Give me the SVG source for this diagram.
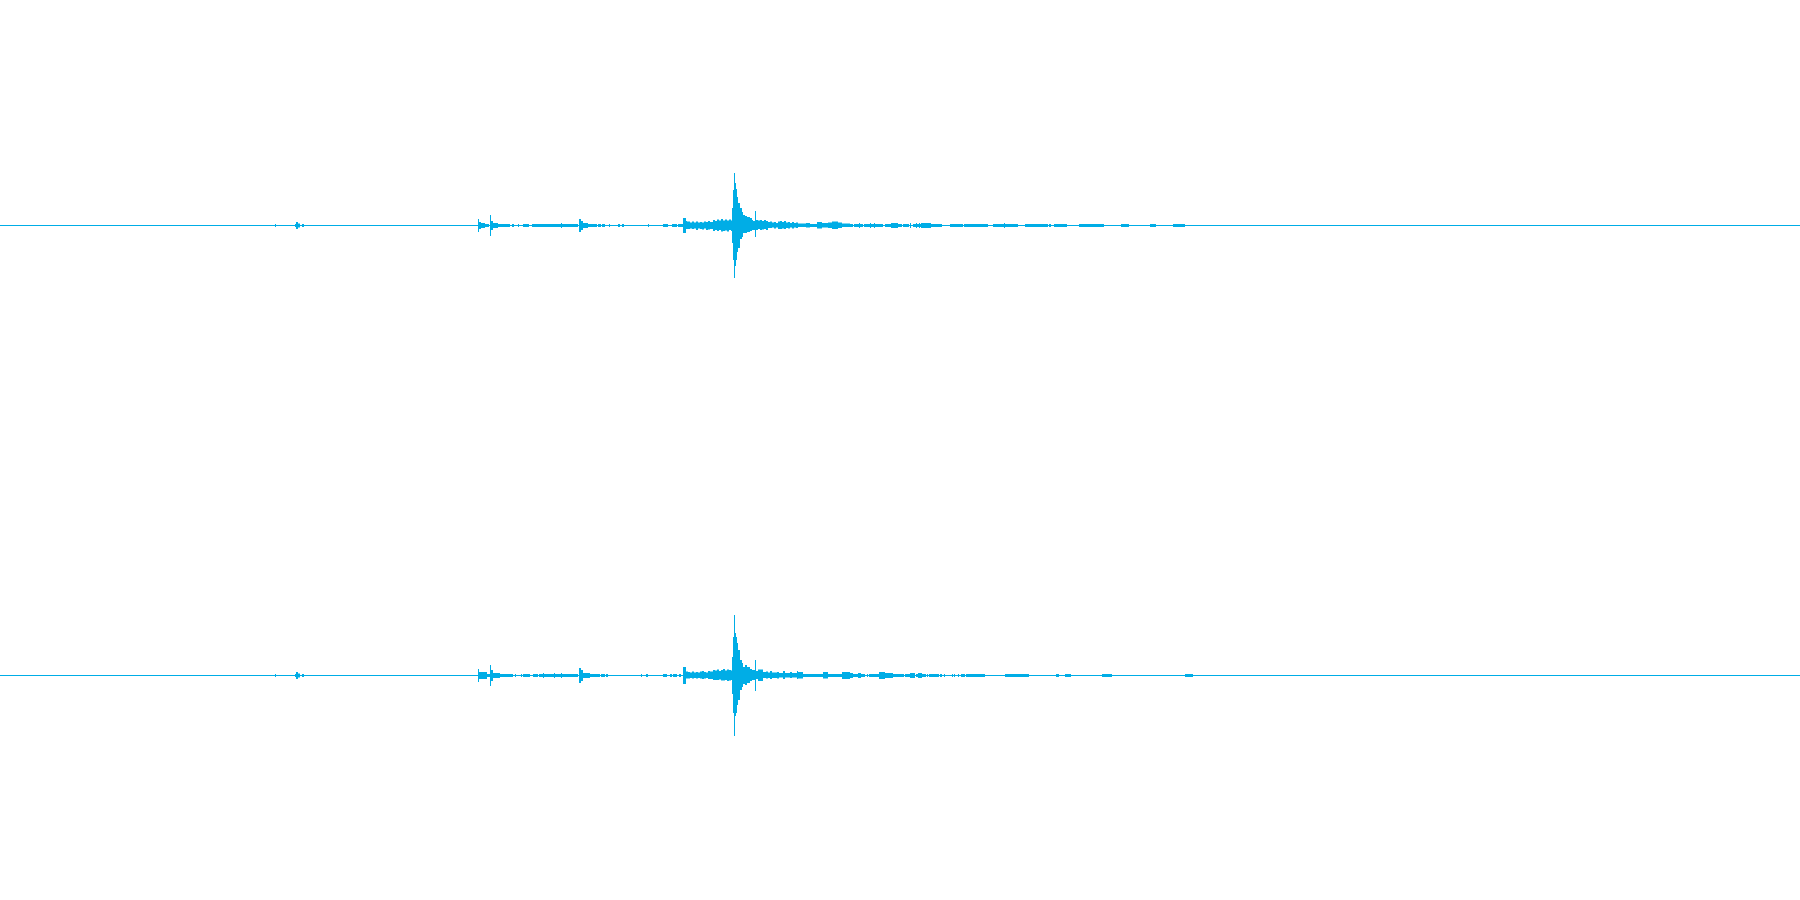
<svg xmlns="http://www.w3.org/2000/svg" width="1800" height="900" viewBox="0 0 1800 900">
<style>
.base{stroke:#00ADE6;stroke-width:1;fill:none}
.wave{fill:#00ADE6;stroke:none}
</style>
<rect x="0" y="0" width="1800" height="900" fill="#FFFFFF"/>
<g id="channel-1" transform="translate(0,225)">
<line class="base" x1="0" y1="0.5" x2="1800" y2="0.5"/>
<path class="wave" d="M275-1H276V2H275Z M295-1H296V2H295Z M296-3H298V4H296Z M298-1.5H300V2.5H298Z M302-1H304V2H302Z
M478-6H479V7H478Z M479-3H481V4H479Z M481-2H485V3H481Z M485-1H489V2H485Z M490-10H491V11H490Z M491-4H493V5H491Z M493-2H498V3H493Z M498-1H510V2H498Z
M512-1H514V2H512Z M518-1H519V2H518Z M523-1H529V2H523Z M532-1H578V2H532Z M561-2H562V3H561Z
M579-6H581V7H579Z M581-4H583V5H581Z M583-2H588V3H583Z M588-1H597V2H588Z M598-1H601V2H598Z M602-1H605V2H602Z M609-1H610V2H609Z M618-1H620V2H618Z M622-1H624V2H622Z M648-1H649V2H648Z
M663-1H668V2H663Z M672-1H677V2H672Z M678-1H683V2H678Z M683-7H686V8H683Z
M686-4H687V4H686Z M687-3.5H690V4H687Z M690-2.5H692V3.5H690Z M692-3.5H694V4H692Z M694-2.5H696V3.5H694Z M696-3.5H698V5H696Z M698-2.5H700V3.5H698Z M700-3H702V4H700Z M702-2.5H704V4.5H702Z M704-3.5H706V3.5H704Z M706-3H708V5H706Z M708-4H710V4.5H708Z M710-3H713V4H710Z M713-5H715V6H713Z M715-4H717V5H715Z M717-5.5H719V6H717Z M719-4.5H721V5H719Z M721-6H723V6.5H721Z M723-4.5H725V6H723Z M725-5.5H727V5.5H725Z M727-4.5H729V6.5H727Z M729-5.5H731V5H729Z M731-4.5H732V6H731Z
M732-17H733V18H732Z M733-35H734V35H733Z M734-52H735V53H734Z M735-42H736V41H735Z M736-36H737V35H736Z M737-28H738V27H737Z M738-22H740V23H738Z M740-17H742V14H740Z M742-13H743V12H742Z M743-10H745V8H743Z M745-9H747V8H745Z M747-8H750V7H747Z M750-7H752V6H750Z
M752-5H753V5H752Z M753-4H755V5H753Z M755-14H756V12H755Z M756-5H758V5H756Z M758-4.5H760V4H758Z M760-5H762V5H760Z M762-4H764V4.5H762Z M764-5H766V4H764Z M766-4H768V5H766Z M768-3H770V3H768Z M770-3.5H772V3H770Z M772-2.5H774V2.5H772Z M774-3H776V3.5H774Z M776-2H778V2.5H776Z M778-3.5H780V4H778Z M780-4H782V4H780Z M782-3H784V3.5H782Z M784-4H786V4H784Z M786-2.5H788V3H786Z M788-3H790V3.5H788Z M790-2H792V2.5H790Z M792-3H794V3.5H792Z M794-2H796V2.5H794Z M796-2.5H798V3H796Z M798-1.5H806V2H798Z M806-2H810V2.5H806Z M810-1H817V2H810Z M817-3H822V3.5H817Z M822-2H828V2.5H822Z M828-2.5H832V3H828Z M832-3.5H838V4H832Z M838-2.5H842V3H838Z M842-1.5H850V2H842Z
M850-1H853V2H850Z M854-1H863V2H854Z M859-2H860V3H859Z M864-1H883V2H864Z M870-2H871V3H870Z M874-2H875V3H874Z M885-1H891V2H885Z M891-2H898V3H891Z M898-1H902V2H898Z M903-1H909V2H903Z M910-2H911V3H910Z M913-1H921V2H913Z M916-2H917V3H916Z M919-2H920V3H919Z M921-2H931V3H921Z M931-1H942V2H931Z M950-1H963V2H950Z M964-1H988V2H964Z M993-1H1004V2H993Z M1004-2H1005V3H1004Z M1005-1H1018V2H1005Z M1025-1H1048V2H1025Z M1049-1H1051V2H1049Z M1054-1H1067V2H1054Z M1079-1H1104V2H1079Z M1121-1H1129V2H1121Z M1150-1H1156V2H1150Z M1173-1H1185V2H1173Z"/>
</g>
<g id="channel-2" transform="translate(0,675)">
<line class="base" x1="0" y1="0.5" x2="1800" y2="0.5"/>
<path class="wave" d="M275-1H276V2H275Z M295-1H296V2H295Z M296-3H298V4H296Z M298-1.5H300V2.5H298Z M302-1H304V2H302Z
M478-6H479V7H478Z M479-3H487V4H479Z M487-1H490V2H487Z M490-10H491V11H490Z M491-5H493V6H491Z M493-2H500V3H493Z M500-1H513V2H500Z
M515-1H516V2H515Z M521-1H522V2H521Z M523-1H530V2H523Z M533-1H538V2H533Z M539-1H578V2H539Z M543-2H544V3H543Z M554-2H555V3H554Z M561-2H562V3H561Z
M579-7H581V8H579Z M581-5H583V6H581Z M583-2H590V3H583Z M590-1H600V2H590Z M601-1H605V2H601Z M606-1H608V2H606Z M641-1H642V2H641Z M646-1H648V2H646Z
M663-1H667V2H663Z M670-1H672V2H670Z M673-1H677V2H673Z M679-1H681V2H679Z M683-8H686V9H683Z
M686-3.5H688V3.5H686Z M688-3H690V3.5H688Z M690-2.5H692V3H690Z M692-3.5H694V3.5H692Z M694-2.5H696V3H694Z M696-3H698V3.5H696Z M698-2.5H700V3H698Z M700-3.5H702V3.5H700Z M702-4H704V4H702Z M704-3H706V3.5H704Z M706-2.5H708V3H706Z M708-4H710V4H708Z M710-3.5H713V4H710Z M713-5H715V5H713Z M715-4.5H717V5H715Z M717-5.5H719V5H717Z M719-4H721V4.5H719Z M721-5H723V5.5H721Z M723-6H725V5.5H723Z M725-4.5H727V5H725Z M727-5.5H729V6H727Z M729-5H731V5.5H729Z M731-4.5H732V5H731Z
M732-18H733V19H732Z M733-38H734V38H733Z M734-60H735V61H734Z M735-42H736V41H735Z M736-38H737V38H736Z M737-32H738V30H737Z M738-25H740V25H738Z M740-15H742V15H740Z M742-12H743V12H742Z M743-8H745V9H743Z M745-10H747V10H745Z M747-8H750V8H747Z M750-6H752V6H750Z M752-5H755V5H752Z M755-15H756V16H755Z
M756-4H758V4H756Z M758-5.5H763V6H758Z M763-3H766V3H763Z M766-3.5H768V3.5H766Z M768-2.5H770V3H768Z M770-4H772V4H770Z M772-2.5H777V3H772Z M777-3H779V3.5H777Z M779-2H783V2.5H779Z M783-4H785V4H783Z M785-2H790V2.5H785Z M790-3H792V3H790Z M792-2H797V2.5H792Z M797-4H798V4H797Z M798-3H803V3.5H798Z M803-1H823V2H803Z M823-3H828V3.5H823Z M828-1H842V2H828Z M842-3H850V4H842Z
M850-2H853V3H850Z M853-1H858V2H853Z M858-2H861V3H858Z M861-1H865V2H861Z M867-1H868V2H867Z M869-1H879V2H869Z M879-3H885V4H879Z M885-2H893V3H885Z M893-1H904V2H893Z M905-1H910V2H905Z M910-2H915V3H910Z M916-1H918V2H916Z M918-2H922V3H918Z M922-1H926V2H922Z M927-1H928V2H927Z M929-1H939V2H929Z M940-1H942V2H940Z M944-1H945V2H944Z M952-1H953V2H952Z M954-1H955V2H954Z M958-1H959V2H958Z M961-1H965V2H961Z M966-1H985V2H966Z M1005-1H1029V2H1005Z M1056-1H1059V2H1056Z M1065-1H1071V2H1065Z M1102-1H1112V2H1102Z M1185-1H1193V2H1185Z"/>
</g>
</svg>
